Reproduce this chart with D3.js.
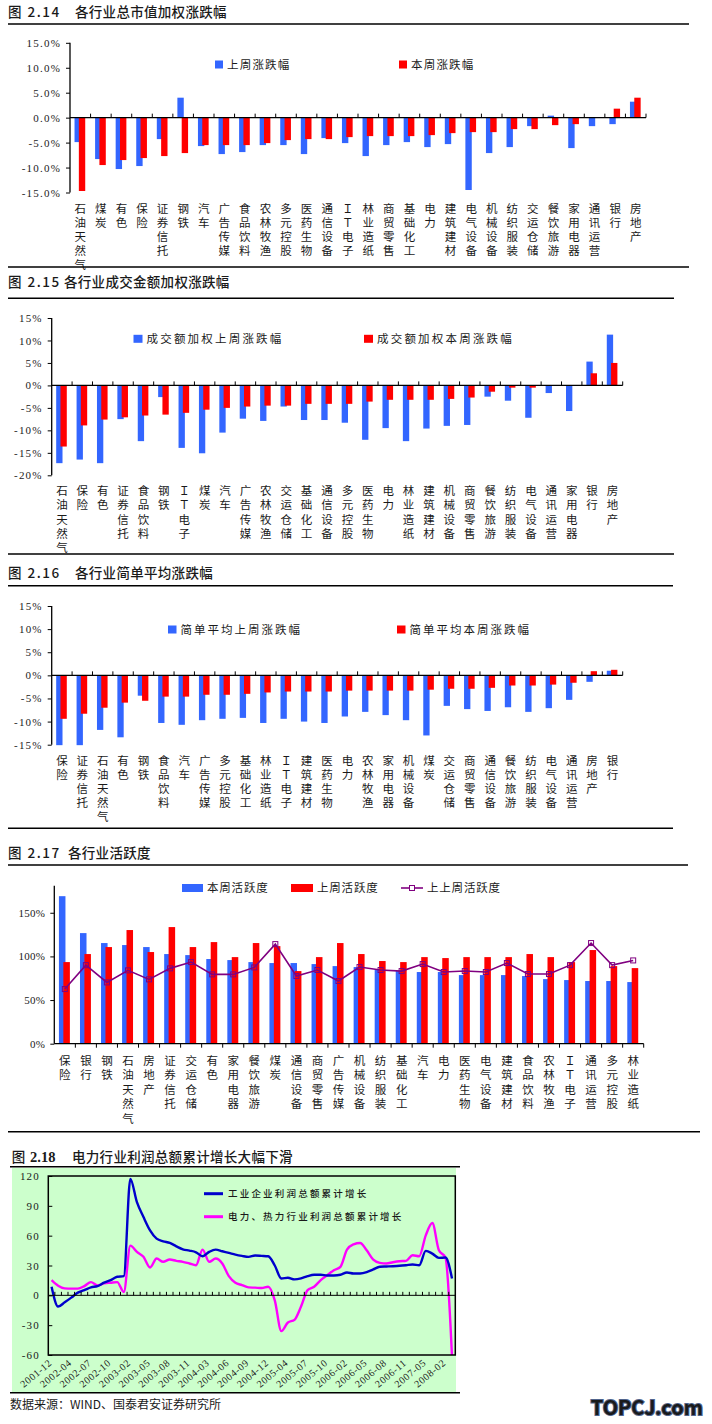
<!DOCTYPE html>
<html lang="zh">
<head>
<meta charset="UTF-8">
<style>
    body { margin: 0; background: #fff; }
    svg { display: block; }
    text { font-family: "Noto Sans CJK SC", sans-serif; fill: #1a1a1a; }
    .num { font-family: "Liberation Serif", "DejaVu Serif", serif; }
</style>
<script src="https://cdn.jsdelivr.net/npm/d3@7"></script>
</head>
<body>
<svg id="page" width="712" height="1424"></svg>
<script>
    // 图 2.14 各行业总市值加权涨跌幅 (%)
    var cats214 = ["石油天然气","煤炭","有色","保险","证券信托","钢铁","汽车","广告传媒","食品饮料","农林牧渔","多元控股","医药生物","通信设备","ＩＴ电子","林业造纸","商贸零售","基础化工","电力","建筑建材","电气设备","机械设备","纺织服装","交运仓储","餐饮旅游","家用电器","通讯运营","银行","房地产"];
    var lastWeek214 = [-4.9,-8.3,-10.3,-9.7,-4.3,4.0,-5.7,-7.3,-6.9,-5.5,-5.5,-7.3,-4.1,-5.1,-7.7,-5.5,-4.9,-5.9,-5.3,-14.5,-7.1,-5.9,-1.7,0.4,-6.1,-1.7,-1.3,3.2];
    var thisWeek214 = [-14.7,-9.5,-8.5,-8.1,-7.7,-7.1,-5.5,-5.5,-5.5,-5.1,-4.5,-4.3,-4.3,-3.9,-3.7,-3.7,-3.7,-3.5,-3.1,-2.9,-2.9,-2.3,-2.3,-1.5,-1.3,0,1.8,4.0];
    var ticks214 = [-15,-10,-5,0,5,10,15];

    // 图 2.15 各行业成交金额加权涨跌幅 (%)
    var cats215 = ["石油天然气","保险","有色","证券信托","食品饮料","钢铁","ＩＴ电子","煤炭","汽车","广告传媒","农林牧渔","交运仓储","基础化工","通信设备","多元控股","医药生物","电力","林业造纸","建筑建材","机械设备","商贸零售","餐饮旅游","纺织服装","电气设备","通讯运营","家用电器","银行","房地产"];
    var lastWeek215 = [-17.3,-16.5,-17.3,-7.5,-12.4,-2.6,-13.9,-15.1,-10.5,-7.4,-7.9,-4.7,-7.7,-7.7,-8.3,-12.1,-9.5,-12.4,-9.6,-9.0,-8.8,-2.5,-3.4,-7.2,-1.7,-5.7,5.3,11.3];
    var thisWeek215 = [-13.6,-8.9,-7.6,-7.1,-6.7,-6.5,-6.1,-5.4,-5.0,-4.7,-4.5,-4.5,-4.1,-4.1,-4.1,-3.6,-3.2,-3.2,-3.2,-3.0,-2.7,-1.4,-0.5,-0.5,0,0,2.7,5.0];
    var ticks215 = [-20,-15,-10,-5,0,5,10,15];

    // 图 2.16 各行业简单平均涨跌幅 (%)
    var cats216 = ["保险","证券信托","石油天然气","有色","钢铁","食品饮料","汽车","广告传媒","多元控股","基础化工","林业造纸","ＩＴ电子","建筑建材","医药生物","电力","农林牧渔","家用电器","机械设备","煤炭","交运仓储","商贸零售","通信设备","餐饮旅游","纺织服装","电气设备","通讯运营","房地产","银行"];
    var lastWeek216 = [-15.1,-15.1,-11.8,-13.4,-4.4,-10.3,-10.7,-9.7,-9.4,-9.2,-10.3,-9.4,-10.0,-10.3,-8.9,-7.9,-8.6,-9.7,-13.0,-6.6,-7.3,-7.7,-6.9,-7.9,-7.1,-5.3,-1.4,1.0];
    var thisWeek216 = [-9.4,-8.3,-7.0,-5.9,-5.5,-4.6,-4.6,-4.2,-4.2,-4.0,-3.7,-3.5,-3.5,-3.5,-3.3,-3.3,-3.3,-3.3,-3.1,-2.9,-2.9,-2.7,-2.2,-2.2,-2.0,-1.6,0.9,1.2];
    var ticks216 = [-15,-10,-5,0,5,10,15];

    // 图 2.17 各行业活跃度 (%)
    var cats217 = ["保险","银行","钢铁","石油天然气","房地产","证券信托","交运仓储","有色","家用电器","餐饮旅游","煤炭","通信设备","商贸零售","广告传媒","机械设备","纺织服装","基础化工","汽车","电力","医药生物","电气设备","建筑建材","食品饮料","农林牧渔","ＩＴ电子","通讯运营","多元控股","林业造纸"];
    var thisWeek217 = [169,126.7,115.3,113,110.7,102.7,101.5,97,95.8,93.5,92.4,92.4,91.2,88.9,87.8,84.4,83.2,82.1,82.1,78.6,78.6,78.6,77.5,74,72.9,71.8,71.8,70.6];
    var lastWeek217 = [93.5,102.7,110.7,130.2,105,133.6,110.7,116.4,99.2,115.3,111.8,83.2,99.2,115.3,102.7,94.7,93.5,99.2,98.1,99.2,99.2,99.2,102.7,99.2,93.5,107.3,88.9,86.6];
    var prevWeek217 = [62.6,90,70.2,84,73.7,86.3,93.5,79.4,79.4,87.4,114.1,77.5,84.4,71.8,87.8,84.4,83.2,91.2,82.1,83.2,82.1,92.4,79.8,79.8,90,115.3,90,95.4];
    var ticks217 = [0,50,100,150];

    // 图 2.18 电力行业利润总额累计增长 (%)
    var months218 = ["2001-12","2002-02","2002-03","2002-04","2002-05","2002-06","2002-07","2002-08","2002-09","2002-10","2002-11","2002-12",
        "2003-02","2003-03","2003-04","2003-05","2003-06","2003-07","2003-08","2003-09","2003-10","2003-11","2003-12",
        "2004-02","2004-03","2004-04","2004-05","2004-06","2004-07","2004-08","2004-09","2004-10","2004-11","2004-12",
        "2005-02","2005-03","2005-04","2005-05","2005-06","2005-07","2005-08","2005-09","2005-10","2005-11","2005-12",
        "2006-02","2006-03","2006-04","2006-05","2006-06","2006-07","2006-08","2006-09","2006-10","2006-11","2006-12",
        "2007-02","2007-05","2007-08","2007-11","2008-02","2008-03"];
    var industry218 = [8.7,-11.3,-7,-2.3,2.7,5.3,8,9.3,12.7,15.3,18.7,19.3,
        117,93.7,78.7,65.3,57,54.3,52.7,49.3,46.3,45,43.3,39.3,
        43.7,46,44.3,42.7,41,39.7,38.7,40,39.7,39.3,30,17,
        17.7,16,17,19.3,20.7,20.7,20,20,20.7,23,22,22,
        23.3,26,28.7,29,29.3,29.7,30.3,31,30.3,44.7,42,37.7,38,17];
    var power218 = [15.3,9.7,7,6.7,6.7,9.3,13.3,10,12,12.7,13.3,3.3,
        50,43.7,38.7,28,37,33.7,36,34.7,33.7,32,30.3,46,
        33.7,37,32,19.3,12.7,10.3,8,7.7,7.3,8.7,-5,-36,
        -27.3,-24.7,-11.3,5.3,8.7,15.3,20.3,25.3,28.7,46,51.3,52.7,
        45.3,36,32.7,32,33.3,34.3,34.7,40.3,39.3,60.3,72.7,45.3,38,-62];
    var ticks218 = [-60,-30,0,30,60,90,120];

    var BLUE = "#3366ff", RED = "#ff0000", PURPLE = "#800080";
    var svg = d3.select("#page");

    function rule(x1, x2, y) {
        svg.append("line").attr("x1", x1).attr("x2", x2).attr("y1", y).attr("y2", y)
            .attr("stroke", "#000").attr("stroke-width", 1.5);
    }

    function header(y, num, numX, title, titleX) {
        svg.append("text").attr("x", numX).attr("y", y)
            .attr("font-size", 13.5).attr("font-weight", 500).attr("letter-spacing", 1.5)
            .text(num);
        svg.append("text").attr("x", titleX).attr("y", y)
            .attr("font-size", 13.5).attr("font-weight", 500).attr("letter-spacing", 0.3)
            .text(title);
    }

    function legendBox(x, y, w, color, label, spacing) {
        svg.append("rect").attr("x", x).attr("y", y - 4).attr("width", w).attr("height", 8).attr("fill", color);
        svg.append("text").attr("x", x + w + 4).attr("y", y + 4.2)
            .attr("font-size", 11.5).attr("letter-spacing", spacing).attr("fill", "#333").text(label);
    }

    function verticalLabels(g, cats, x, top, step) {
        cats.forEach(function(c) {
            Array.from(c).forEach(function(ch, i) {
                g.append("text").attr("x", x(c) + x.bandwidth() / 2).attr("y", top + i * step)
                    .attr("text-anchor", "middle").attr("font-size", 11.5).attr("fill", "#333")
                    .text(ch);
            });
        });
    }

    // grouped bar chart; blue and red bars overlap a little, red on top
    function barChart(o) {
        var g = svg.append("g");
        var x = d3.scaleBand().domain(o.cats).range([o.x0, o.x1]);
        var y = d3.scaleLinear().domain([o.ticks[0], o.yMax]).range([o.yBottom, o.yTop]);
        var step = x.bandwidth();
        var bw = step * 0.31;
        var base = o.baseAtBottom ? y(o.ticks[0]) : y(0);

        function bars(vals, offset, color) {
            g.append("g").selectAll("rect").data(o.cats).join("rect")
                .attr("x", function(d) { return x(d) + step / 2 + offset * step; })
                .attr("width", bw)
                .attr("y", function(d, i) { return Math.min(y(vals[i]), y(0)); })
                .attr("height", function(d, i) { return Math.abs(y(vals[i]) - y(0)); })
                .attr("fill", color);
        }
        bars(o.blue, -0.28, BLUE);
        bars(o.red, -0.07, RED);

        if (o.line) {
            var line = d3.line()
                .x(function(d, i) { return x(o.cats[i]) + step / 2; })
                .y(function(d) { return y(d); });
            g.append("path").attr("d", line(o.line)).attr("fill", "none")
                .attr("stroke", PURPLE).attr("stroke-width", 1.6);
            g.append("g").selectAll("rect").data(o.line).join("rect")
                .attr("x", function(d, i) { return x(o.cats[i]) + step / 2 - 2.5; })
                .attr("y", function(d) { return y(d) - 2.5; })
                .attr("width", 5).attr("height", 5)
                .attr("fill", "none").attr("stroke", PURPLE).attr("stroke-width", 1);
        }

        // value axis
        var yAxis = d3.axisLeft(y).tickValues(o.ticks).tickSize(4).tickPadding(5).tickFormat(o.fmt);
        var ya = g.append("g").attr("transform", "translate(" + o.x0 + ",0)").call(yAxis);
        ya.select(".domain").attr("d", "M0," + o.yTop + "V" + o.yBottom).attr("stroke", "#000").attr("stroke-width", 1.3);
        ya.selectAll(".tick line").attr("stroke", "#000");
        ya.selectAll(".tick text").attr("class", "num").attr("font-size", 11)
            .attr("letter-spacing", o.numSpacing).attr("fill", "#333");

        // category axis line with ticks at band edges
        g.append("line").attr("x1", o.x0).attr("x2", o.x1).attr("y1", base).attr("y2", base)
            .attr("stroke", "#000").attr("stroke-width", 1.3);
        var dir = o.baseAtBottom ? 4 : -4;
        g.append("g").selectAll("line").data(o.cats).join("line")
            .attr("x1", function(d) { return x(d) + step; }).attr("x2", function(d) { return x(d) + step; })
            .attr("y1", base).attr("y2", base + dir).attr("stroke", "#000");

        verticalLabels(g, o.cats, x, o.labelTop, o.labelStep);
    }

    // 图 2.14
    header(17, "图 2.14", 8, "各行业总市值加权涨跌幅", 75);
    rule(8, 689, 24);
    barChart({cats: cats214, blue: lastWeek214, red: thisWeek214, ticks: ticks214, yMax: 15,
        x0: 70, x1: 646, yTop: 42.8, yBottom: 192.5, numSpacing: 1.2,
        fmt: function(v) { return v.toFixed(1) + "%"; }, labelTop: 212.5, labelStep: 14});
    legendBox(215, 64.5, 8, BLUE, "上周涨跌幅", 1.2);
    legendBox(399, 64.5, 8, RED, "本周涨跌幅", 1.2);
    rule(8, 689, 267);

    // 图 2.15
    header(286.5, "图 2.15", 8, "各行业成交金额加权涨跌幅", 64);
    rule(8, 674, 298.3);
    barChart({cats: cats215, blue: lastWeek215, red: thisWeek215, ticks: ticks215, yMax: 15,
        x0: 51.7, x1: 622.7, yTop: 318, yBottom: 475.3, numSpacing: 1.2,
        fmt: function(v) { return v + "%"; }, labelTop: 495, labelStep: 14.3});
    legendBox(133.5, 338.8, 9, BLUE, "成交额加权上周涨跌幅", 2.2);
    legendBox(364, 338.8, 9, RED, "成交额加权本周涨跌幅", 2.2);
    rule(8, 674, 554);

    // 图 2.16
    header(577.5, "图 2.16", 8, "各行业简单平均涨跌幅", 75);
    rule(8, 673, 585.7);
    barChart({cats: cats216, blue: lastWeek216, red: thisWeek216, ticks: ticks216, yMax: 15,
        x0: 51.7, x1: 622.7, yTop: 606, yBottom: 744.7, numSpacing: 1.2,
        fmt: function(v) { return v + "%"; }, labelTop: 764.5, labelStep: 14});
    legendBox(168, 629.5, 8.5, BLUE, "简单平均上周涨跌幅", 2);
    legendBox(397, 629.5, 8.5, RED, "简单平均本周涨跌幅", 2);
    rule(8, 673, 828.3);

    // 图 2.17
    header(858, "图 2.17", 8, "各行业活跃度", 68);
    rule(8, 688, 865);
    barChart({cats: cats217, blue: thisWeek217, red: lastWeek217, line: prevWeek217, ticks: ticks217, yMax: 181,
        x0: 54.3, x1: 643.7, yTop: 885.7, yBottom: 1043.7, numSpacing: 0.3, baseAtBottom: true,
        fmt: function(v) { return v + "%"; }, labelTop: 1064.5, labelStep: 14.5});
    legendBox(182, 888, 21, BLUE, "本周活跃度", 0.8);
    legendBox(291, 888, 22, RED, "上周活跃度", 0.8);
    svg.append("line").attr("x1", 401).attr("x2", 423).attr("y1", 888).attr("y2", 888)
        .attr("stroke", PURPLE).attr("stroke-width", 1.6);
    svg.append("rect").attr("x", 409.5).attr("y", 885.5).attr("width", 5).attr("height", 5)
        .attr("fill", "#fff").attr("stroke", PURPLE);
    svg.append("text").attr("x", 427).attr("y", 892.2).attr("font-size", 11.5)
        .attr("letter-spacing", 0.8).attr("fill", "#333").text("上上周活跃度");
    rule(8, 700, 1131.7);

    // 图 2.18
    svg.append("text").attr("x", 11.7).attr("y", 1161.5).attr("font-size", 13.5).attr("font-weight", 500).text("图");
    svg.append("text").attr("class", "num").attr("x", 30).attr("y", 1161.5).attr("font-size", 14.5)
        .attr("font-weight", "bold").text("2.18");
    svg.append("text").attr("x", 72).attr("y", 1161.5).attr("font-size", 13.5).attr("font-weight", 500)
        .attr("letter-spacing", 0.3).text("电力行业利润总额累计增长大幅下滑");
    rule(10, 460, 1166.7);

    (function() {
        var left = 48.3, right = 455.3, top = 1176, bottom = 1355;
        var g = svg.append("g");
        g.append("rect").attr("x", 12).attr("y", 1168).attr("width", 444).attr("height", 224).attr("fill", "#ccffcc");
        var x = d3.scaleBand().domain(months218).range([left, right]);
        var y = d3.scaleLinear().domain([-60, 120]).range([bottom, top]);
        var step = x.bandwidth();

        g.append("clipPath").attr("id", "plot218").append("rect")
            .attr("x", left).attr("y", top).attr("width", right - left).attr("height", bottom - top);

        var line = d3.line()
            .x(function(d, i) { return x(months218[i]) + step / 2; })
            .y(function(d) { return y(d); })
            .curve(d3.curveMonotoneX);
        g.append("path").attr("d", line(power218)).attr("clip-path", "url(#plot218)")
            .attr("fill", "none").attr("stroke", "#ff00ff").attr("stroke-width", 2.4);
        g.append("path").attr("d", line(industry218)).attr("clip-path", "url(#plot218)")
            .attr("fill", "none").attr("stroke", "#0000cc").attr("stroke-width", 2.4);

        g.append("rect").attr("x", left).attr("y", top).attr("width", right - left).attr("height", bottom - top)
            .attr("fill", "none").attr("stroke", "#000").attr("stroke-width", 1.5);

        // zero line with ticks pointing up at band edges
        g.append("line").attr("x1", left).attr("x2", right).attr("y1", y(0)).attr("y2", y(0)).attr("stroke", "#000");
        g.append("g").selectAll("line").data(months218.slice(0, -1)).join("line")
            .attr("x1", function(d) { return x(d) + step; }).attr("x2", function(d) { return x(d) + step; })
            .attr("y1", y(0)).attr("y2", y(0) - 3.5).attr("stroke", "#000");

        var yAxis = d3.axisRight(y).tickValues(ticks218).tickSize(4).tickFormat("");
        var ya = g.append("g").attr("transform", "translate(" + left + ",0)").call(yAxis);
        ya.select(".domain").remove();
        ya.selectAll(".tick line").attr("stroke", "#000");
        g.append("g").selectAll("text").data(ticks218).join("text")
            .attr("class", "num").attr("x", 40).attr("y", function(d) { return y(d) + 4; })
            .attr("text-anchor", "end").attr("font-size", 11).attr("letter-spacing", 1.2).attr("fill", "#333")
            .text(function(d) { return d; });

        g.append("g").selectAll("text").data(months218.filter(function(d, i) { return i % 3 === 0; })).join("text")
            .attr("class", "num").attr("font-size", 10).attr("letter-spacing", 0.6).attr("fill", "#333")
            .attr("text-anchor", "end")
            .attr("transform", function(d) { return "translate(" + (x(d) + step / 2 + 1) + "," + 1364 + ") rotate(-40)"; })
            .text(function(d) { return d; });

        // legend
        [["#0000cc", "工业企业利润总额累计增长", 1193.7], ["#ff00ff", "电力、热力行业利润总额累计增长", 1216.7]].forEach(function(l) {
            g.append("line").attr("x1", 204).attr("x2", 223).attr("y1", l[2]).attr("y2", l[2])
                .attr("stroke", l[0]).attr("stroke-width", 3);
            g.append("text").attr("x", 228).attr("y", l[2] + 3.6).attr("font-size", 9.5).attr("font-weight", 500)
                .attr("letter-spacing", 2.2).attr("fill", "#222").text(l[1]);
        });
    })();
    rule(10, 460, 1392.7);

    svg.append("text").attr("x", 10).attr("y", 1409).attr("font-size", 12).attr("fill", "#333")
        .text("数据来源：WIND、国泰君安证券研究所");

    svg.append("text").attr("x", 703).attr("y", 1415).attr("text-anchor", "end")
        .attr("font-family", "DejaVu Sans, sans-serif").attr("font-size", 20).attr("font-weight", "bold")
        .attr("fill", "#fff").attr("stroke", "#50648c").attr("stroke-width", 2).attr("paint-order", "stroke")
        .text("TOPCJ.com");
</script>
</body>
</html>
